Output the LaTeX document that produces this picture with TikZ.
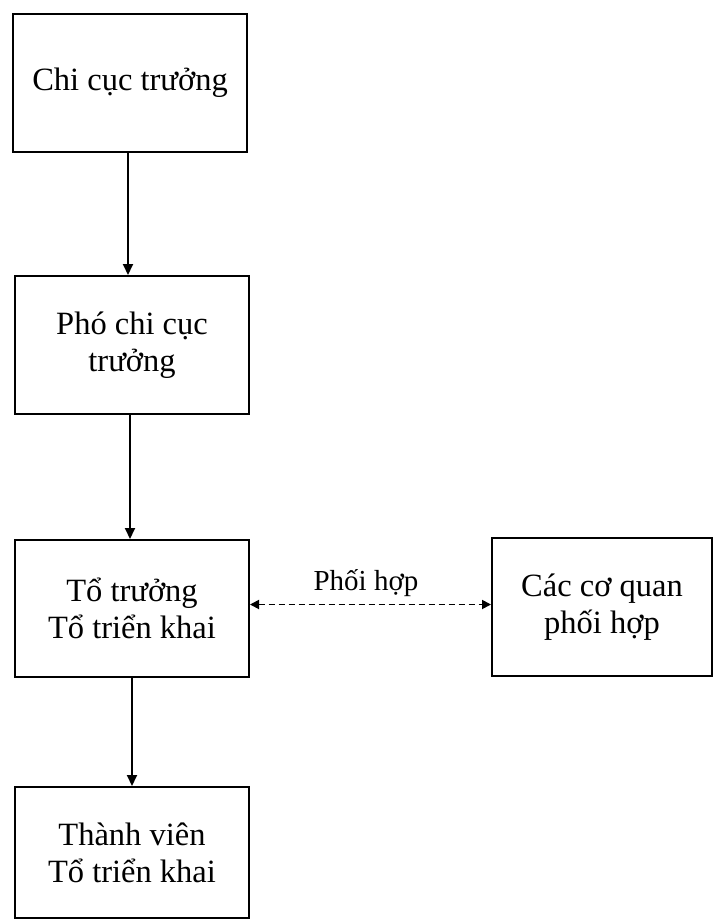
\documentclass[tikz,border=0pt]{standalone}
\usepackage{fontspec}
\setmainfont{Liberation Serif}
\usetikzlibrary{arrows.meta}
\begin{document}
\begin{tikzpicture}[x=1pt,y=-1pt,
  box/.style={draw, line width=2pt, rectangle, minimum width=234pt, minimum height=138pt,
    inner sep=0pt, align=center, font=\fontsize{32.5}{37}\selectfont},
  arr/.style={line width=2pt, -{Triangle[length=11pt,width=10pt]}},
  dasharr/.style={line width=1.8pt, dash pattern=on 6pt off 4pt,
    {Triangle[length=9pt,width=9pt]}-{Triangle[length=9pt,width=9pt]}},
  lab/.style={font=\fontsize{29}{33}\selectfont, inner sep=0pt}]
  \path[use as bounding box, fill=white] (0,0) rectangle (714,920);
  \node[box] (b1) at (130,83) {Chi cục trưởng};
  \node[box] (b2) at (132,345) {Phó chi cục\\trưởng};
  \node[box, minimum height=137pt] (b3) at (132,608.5) {Tổ trưởng\\Tổ triển khai};
  \node[box, minimum width=220pt] (b4) at (602,607) {Các cơ quan\\phối hợp};
  \node[box, minimum height=131pt] (b5) at (132,852.5) {Thành viên\\Tổ triển khai};
  \node[lab] (lbl) at (366,583) {Phối hợp};
  \draw[arr] ([xshift=-2pt]b1.south) -- ([xshift=-4pt]b2.north);
  \draw[arr] ([xshift=-2pt]b2.south) -- ([xshift=-2pt]b3.north);
  \draw[arr] (b3.south) -- (b5.north);
  \draw[dasharr] ([yshift=4pt]b3.east) -- ([yshift=4pt]b3.east -| b4.west);
\end{tikzpicture}
\end{document}
